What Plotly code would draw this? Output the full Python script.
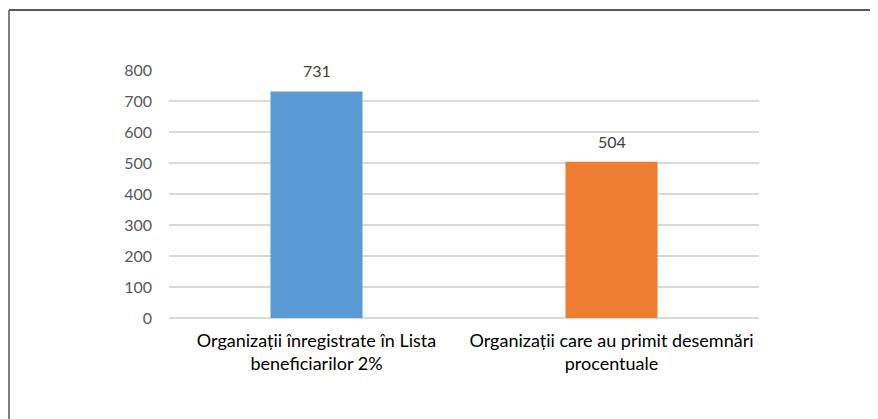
import plotly.graph_objects as go

categories = ["Organizații înregistrate în Lista<br>beneficiarilor 2%",
              "Organizații care au primit desemnări<br>procentuale"]
values = [731, 504]
bar_colors = ["#5B9BD5", "#ED7D31"]
y_ticks = [0, 100, 200, 300, 400, 500, 600, 700, 800]

# page has an 8px body margin, so the figure is shifted by 8px
OFF = 8
W, H = 878 - OFF, 419 - OFF
L, T = 169 - OFF, 70 - OFF
pw, ph = 590, 248
R, B = W - L - pw, H - T - ph

fig = go.Figure()
fig.add_trace(go.Bar(x=categories, y=values, marker=dict(color=bar_colors, line=dict(width=0)),
                     width=0.312, hoverinfo="skip"))

for c, v in zip(categories, values):
    fig.add_annotation(x=c, y=v, text=str(v), showarrow=False, yanchor="bottom", yshift=9,
                       font=dict(family="Lato, Noto Sans, sans-serif", size=16, color="#404040"))

# outer frame (top and left edges)
x0 = (1 - L) / pw
y_top = (ph + T - 2) / ph
y_bot = (ph + T - H) / ph
x_right = (W - L) / pw
fig.add_shape(type="line", xref="paper", yref="paper", x0=x0, x1=x_right, y0=y_top, y1=y_top,
              line=dict(color="#222222", width=1.5))
fig.add_shape(type="line", xref="paper", yref="paper", x0=x0, x1=x0, y0=y_top, y1=y_bot,
              line=dict(color="#555555", width=1.5))

fig.update_layout(
    width=W, height=H,
    margin=dict(l=L, r=R, t=T, b=B, autoexpand=False),
    paper_bgcolor="white", plot_bgcolor="white",
    showlegend=False,
    font=dict(family="Lato, Noto Sans, sans-serif"),
    xaxis=dict(showline=False, ticks="", tickfont=dict(size=18, color="#000000"),
               ticklabelstandoff=10, showgrid=False, zeroline=False),
    yaxis=dict(range=[0, 800], tickvals=y_ticks, showgrid=True, gridcolor="#D9D9D9", gridwidth=1.5,
               zeroline=True, zerolinecolor="#D9D9D9", zerolinewidth=1.5, showline=False,
               ticks="", tickfont=dict(size=16, color="#595959"), ticklabelstandoff=16),
)

fig.write_html("out.html")
